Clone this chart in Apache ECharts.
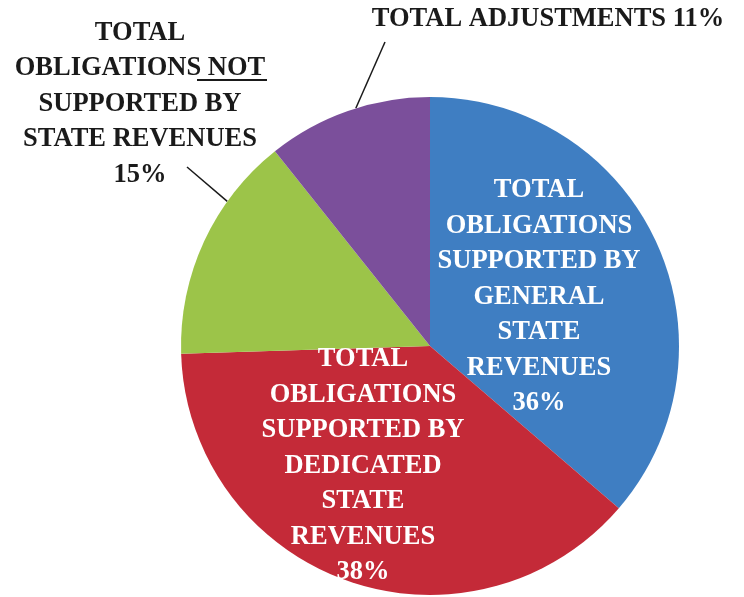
<!DOCTYPE html>
<html>
<head>
<meta charset="utf-8">
<script src="https://cdn.jsdelivr.net/npm/echarts@6/dist/echarts.min.js"></script>
<style>html,body{margin:0;padding:0;background:#fff}#c{width:744px;height:597px}</style>
</head>
<body>
<div id="c"></div>
<script>
// ---- data ----
const categories = [
  'TOTAL OBLIGATIONS SUPPORTED BY GENERAL STATE REVENUES',
  'TOTAL OBLIGATIONS SUPPORTED BY DEDICATED STATE REVENUES',
  'TOTAL OBLIGATIONS NOT SUPPORTED BY STATE REVENUES',
  'TOTAL ADJUSTMENTS'
];
const values = [36.3, 38.2, 14.8, 10.7];
const labelLines = [
  ['TOTAL', 'OBLIGATIONS', 'SUPPORTED BY', 'GENERAL', 'STATE', 'REVENUES'],
  ['TOTAL', 'OBLIGATIONS', 'SUPPORTED BY', 'DEDICATED', 'STATE', 'REVENUES'],
  ['TOTAL', 'OBLIGATIONS NOT', 'SUPPORTED BY', 'STATE REVENUES'],
  ['TOTAL ADJUSTMENTS']
];
const colors = ['#3f7ec2', '#c42a38', '#9cc449', '#7b4f9b'];

// ---- layout constants ----
const CX = 430, CY = 346, R = 249;
const labelPos = [[539, 297], [363, 466], [140, 104], [548, 19]];
const lineAt = [null, null, 0.7, 0.55];           // fraction along slice where leader starts
const lineEndOffset = [null, null, [47, 63], [-163, 23]];

const total = values.reduce((a, b) => a + b, 0);
const startFrac = [];
values.reduce((acc, v, i) => { startFrac[i] = acc / total; return acc + v; }, 0);

function labelText(i) {
  const pct = Math.round(values[i]) + '%';
  const lines = labelLines[i].slice();
  if (i === 3) return lines[0] + ' ' + pct;
  return lines.concat([pct]).join('\n');
}

const chart = echarts.init(document.getElementById('c'), null, {renderer: 'canvas'});
chart.setOption({
  animation: false,
  series: [{
    type: 'pie',
    center: [CX, CY],
    radius: [0, R],
    startAngle: 90,
    clockwise: true,
    avoidLabelOverlap: false,
    itemStyle: {borderWidth: 0},
    label: {
      fontFamily: 'Liberation Serif',
      fontWeight: 'bold',
      fontSize: 26.5,
      lineHeight: 35.5,
      align: 'center'
    },
    labelLine: {show: true, lineStyle: {color: '#1a1a1a', width: 1.5}, length: 10, length2: 0, smooth: false},
    labelLayout: function (p) {
      const i = p.dataIndex;
      const out = {x: labelPos[i][0], y: labelPos[i][1], align: 'center', verticalAlign: 'middle'};
      if (lineAt[i] != null) {
        const a = (startFrac[i] + lineAt[i] * values[i] / total) * 2 * Math.PI;
        const sx = CX + R * Math.sin(a), sy = CY - R * Math.cos(a);
        out.labelLinePoints = [[sx, sy], [sx, sy], [labelPos[i][0] + lineEndOffset[i][0], labelPos[i][1] + lineEndOffset[i][1]]];
      }
      return out;
    },
    data: categories.map((name, i) => ({
      name: name,
      value: values[i],
      itemStyle: {color: colors[i]},
      label: {
        show: true,
        position: i < 2 ? 'inside' : 'outside',
        color: i < 2 ? '#ffffff' : '#1a1a1a',
        formatter: () => labelText(i)
      },
      labelLine: {show: i >= 2}
    }))
  }],
  graphic: [{
    type: 'rect',
    shape: {x: 197, y: 79, width: 70, height: 2},
    style: {fill: '#1a1a1a'}
  }]
});
</script>
</body>
</html>
